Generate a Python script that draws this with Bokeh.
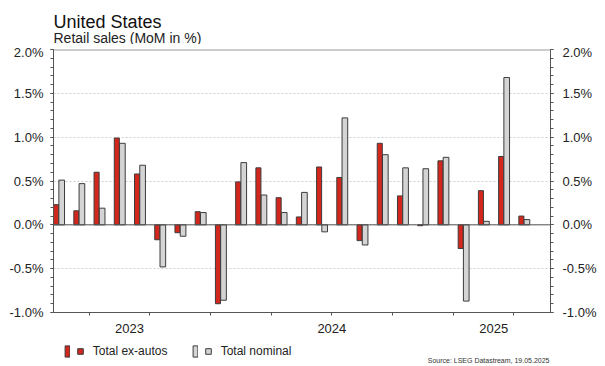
from bokeh.plotting import figure
from bokeh.layouts import column
from bokeh.models import (ColumnDataSource, Range1d, LinearAxis, FixedTicker, SingleIntervalTicker,
                          PrintfTickFormatter, Grid, Span, Label, Legend, LegendItem)
from bokeh.transform import dodge
from bokeh.core.properties import value
from bokeh.embed import file_html
from bokeh.resources import INLINE

# ---- data ----
months = ["May 2023", "Jun 2023", "Jul 2023", "Aug 2023", "Sep 2023", "Oct 2023", "Nov 2023", "Dec 2023",
          "Jan 2024", "Feb 2024", "Mar 2024", "Apr 2024", "May 2024", "Jun 2024", "Jul 2024", "Aug 2024",
          "Sep 2024", "Oct 2024", "Nov 2024", "Dec 2024",
          "Jan 2025", "Feb 2025", "Mar 2025", "Apr 2025"]
ex_autos = [0.23, 0.16, 0.60, 0.99, 0.58, -0.17, -0.09, 0.15,
            -0.90, 0.49, 0.65, 0.31, 0.09, 0.66, 0.54, -0.18,
            0.93, 0.33, -0.01, 0.73, -0.27, 0.39, 0.78, 0.10]
nominal = [0.51, 0.47, 0.19, 0.93, 0.68, -0.48, -0.13, 0.14,
           -0.86, 0.71, 0.34, 0.14, 0.37, -0.08, 1.22, -0.23,
           0.80, 0.65, 0.64, 0.77, -0.87, 0.04, 1.68, 0.06]
year_labels = ["2023", "2024", "2025"]
series_names = ["Total ex-autos", "Total nominal"]
title_text = "United States"
subtitle_text = "Retail sales (MoM in %)"
source_text = "Source: LSEG Datastream, 19.05.2025"

RED = "#d3271d"
GRAY = "#d4d4d4"
EDGE = "#3c3c3c"
FONT = "Liberation Sans"
W = 605
LEFT, RIGHT = 53, 55   # plot borders (the column aligns all frames to these)

idx = list(range(len(months)))
src = ColumnDataSource(dict(idx=idx, month=months, ex_autos=ex_autos, nominal=nominal))


def blank_fig(height):
    f = figure(width=W, height=height, x_range=Range1d(0, W - LEFT - RIGHT), y_range=Range1d(0, height),
               output_backend="svg", toolbar_location=None,
               x_axis_location=None, y_axis_location=None,
               min_border_left=LEFT, min_border_right=RIGHT, min_border_top=0, min_border_bottom=0)
    f.outline_line_color = None
    f.xgrid.visible = False
    f.ygrid.visible = False
    f.background_fill_color = "white"
    f.border_fill_color = "white"
    return f


# ---------------- title strip ----------------
tf = blank_fig(44)
tf.add_layout(Label(x=0, y=23, x_units="screen", y_units="screen", text=title_text,
                    text_font=FONT, text_font_size="18px", text_color="#111111",
                    text_baseline="alphabetic"))
tf.add_layout(Label(x=0, y=7, x_units="screen", y_units="screen", text=subtitle_text,
                    text_font=FONT, text_font_size="14px", text_color="#222222",
                    text_baseline="alphabetic"))

# ---------------- main chart ----------------
p = figure(width=W, height=296, x_range=Range1d(-0.26, 24.31), y_range=Range1d(-1.0, 2.0),
           output_backend="svg", toolbar_location=None,
           x_axis_location=None, y_axis_location=None,
           min_border_left=LEFT, min_border_right=RIGHT, min_border_top=5, min_border_bottom=28)
p.outline_line_color = None
p.xgrid.visible = False
p.ygrid.visible = False
p.background_fill_color = "white"
p.border_fill_color = "white"

grid = Grid(dimension=1, ticker=SingleIntervalTicker(interval=0.5),
            grid_line_color="#cfcfcf", grid_line_dash="2 2", grid_line_width=1)
p.add_layout(grid)


def style_y(ax, standoff):
    ax.ticker = SingleIntervalTicker(interval=0.5, num_minor_ticks=5)
    ax.formatter = PrintfTickFormatter(format="%.1f%%")
    ax.axis_line_color = "#555555"
    ax.major_tick_line_color = "#555555"
    ax.minor_tick_line_color = "#555555"
    ax.major_tick_out = 3
    ax.major_tick_in = 0
    ax.minor_tick_out = 3
    ax.minor_tick_in = 0
    ax.major_label_text_font = FONT
    ax.major_label_text_font_size = "13px"
    ax.major_label_text_color = "#222222"
    ax.major_label_standoff = standoff


yl = LinearAxis()
style_y(yl, 7)
p.add_layout(yl, "left")
yr = LinearAxis()
style_y(yr, 9)
p.add_layout(yr, "right")

# bottom axis: year labels at year centres, small ticks at quarter boundaries
year_centres = []
for yr_lab in year_labels:
    pos = [i for i, m in zip(idx, months) if m.endswith(yr_lab)]
    year_centres.append(sum(pos) / len(pos))
quarter_bounds = [i - 0.5 for i in range(2, len(months), 3)]
xb = LinearAxis(ticker=FixedTicker(ticks=year_centres, minor_ticks=quarter_bounds))
xb.major_label_overrides = {c: lab for c, lab in zip(year_centres, year_labels)}
xb.axis_line_color = "#555555"
xb.major_tick_line_color = None
xb.major_tick_out = 0
xb.major_tick_in = 0
xb.minor_tick_line_color = "#555555"
xb.minor_tick_out = 3
xb.minor_tick_in = 0
xb.major_label_standoff = 8
xb.major_label_text_font = FONT
xb.major_label_text_font_size = "13px"
xb.major_label_text_color = "#222222"
p.add_layout(xb, "below")

red = p.vbar(x=dodge("idx", -0.13), top="ex_autos", width=0.25, source=src,
             fill_color=RED, line_color=EDGE, line_width=1)
gray = p.vbar(x=dodge("idx", 0.145), top="nominal", width=0.28, source=src,
              fill_color=GRAY, line_color=EDGE, line_width=1)

p.add_layout(Span(location=0, dimension="width", line_color="#555555", line_width=1))
p.add_layout(Span(location=2.0, dimension="width", line_color="#999999", line_width=2))

# ---------------- legend / source strip ----------------
lf = blank_fig(26)
red_leg = lf.vbar(x="idx", top="ex_autos", width=0.25, source=src,
                  fill_color=RED, line_color=EDGE, line_width=1, visible=False)
gray_leg = lf.vbar(x="idx", top="nominal", width=0.28, source=src,
                   fill_color=GRAY, line_color=EDGE, line_width=1, visible=False)
red_sq = lf.scatter(x="idx", y="ex_autos", source=src, marker="square", size=5,
                    fill_color=RED, line_color=EDGE, visible=False)
gray_sq = lf.scatter(x="idx", y="nominal", source=src, marker="square", size=5,
                     fill_color=GRAY, line_color=EDGE, visible=False)


def add_legend(renderer, label, vx, glyph_w, standoff):
    lg = Legend(items=[LegendItem(label=value(label), renderers=[renderer])],
                location=(vx, 8.5), glyph_width=glyph_w, glyph_height=14,
                label_height=14, label_width=0, label_standoff=standoff,
                padding=0, margin=0, spacing=0, border_line_alpha=0, background_fill_alpha=0,
                label_text_font=FONT, label_text_font_size="12px", label_text_color="#222222")
    lf.add_layout(lg)


add_legend(red_leg, "", 10.5, 6, 0)
add_legend(red_sq, series_names[0], 19.75, 14, 6)
add_legend(gray_leg, "", 139, 6, 0)
add_legend(gray_sq, series_names[1], 147.7, 14, 6)

lf.add_layout(Label(x=496, y=6, x_units="screen", y_units="screen", text=source_text,
                    text_align="right", text_font=FONT, text_font_size="7px",
                    text_color="#333333", text_baseline="alphabetic"))

layout = column(tf, p, lf, spacing=0)
open("out.html", "w").write(file_html(layout, INLINE))
